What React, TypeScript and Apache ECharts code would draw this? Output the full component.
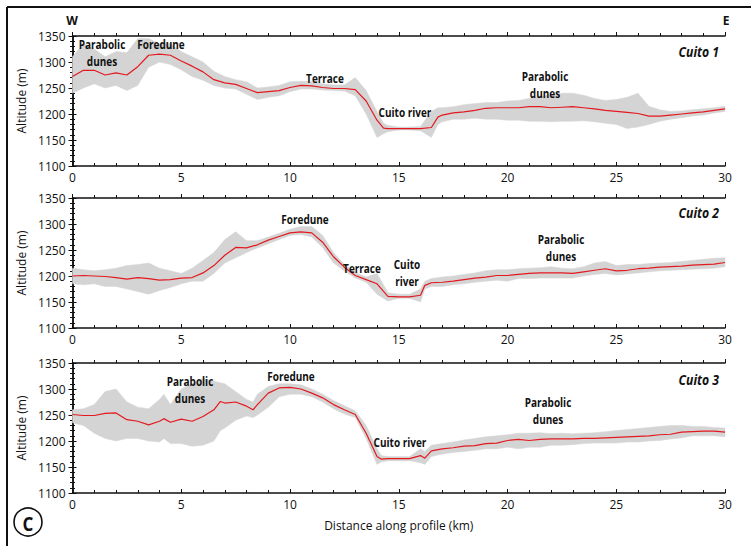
import React, { useEffect, useRef } from "react";
import * as echarts from "echarts";

// ---------- DATA ----------
const kmP1 = [0,0.5,1,1.5,2,2.5,3,3.5,4,4.5,5,5.5,6,6.5,7,7.5,8,8.5,9,9.5,10,10.5,11,11.5,12,12.5,13,13.5,14,14.3,14.5,15,15.5,16,16.5,16.8,17,17.5,18,18.5,19,19.5,20,20.5,21,21.5,22,22.5,23,23.5,24,24.5,25,25.5,26,26.5,27,27.5,28,28.5,29,29.5,30];
const meanP1 = [1272,1284,1284,1275,1279,1275,1291,1313,1315,1313,1302,1292,1281,1266,1260,1257,1249,1241,1243,1245,1251,1255,1254,1251,1249,1249,1247,1225,1188,1173,1172,1172,1172,1172,1174,1194,1198,1202,1204,1207,1211,1212,1212,1212,1214,1214,1212,1213,1214,1212,1210,1207,1205,1203,1201,1196,1196,1198,1200,1202,1204,1207,1210];
const lowP1 = [1240,1250,1258,1250,1255,1245,1255,1290,1300,1295,1285,1272,1265,1255,1250,1248,1238,1228,1232,1235,1243,1248,1248,1246,1245,1244,1235,1200,1155,1162,1166,1169,1169,1168,1155,1180,1185,1190,1190,1192,1190,1190,1188,1188,1186,1186,1185,1186,1186,1187,1185,1182,1180,1172,1175,1180,1186,1190,1193,1196,1198,1202,1205];
const highP1 = [1310,1335,1325,1310,1320,1318,1345,1345,1335,1335,1320,1310,1300,1282,1272,1266,1262,1250,1252,1255,1262,1263,1262,1258,1256,1256,1270,1245,1205,1182,1178,1175,1175,1176,1205,1212,1212,1214,1218,1220,1222,1222,1225,1226,1230,1234,1236,1240,1240,1236,1230,1226,1228,1232,1240,1215,1208,1205,1206,1208,1210,1212,1215];

const kmP2 = [0,0.5,1,1.5,2,2.5,3,3.5,4,4.5,5,5.5,6,6.5,7,7.5,8,8.5,9,9.5,10,10.5,11,11.5,12,12.5,13,13.5,14,14.5,15,15.5,16,16.2,16.5,17,17.5,18,18.5,19,19.5,20,20.5,21,21.5,22,22.5,23,23.5,24,24.5,25,25.5,26,26.5,27,27.5,28,28.5,29,29.5,30];
const meanP2 = [1200,1201,1200,1199,1197,1194,1197,1195,1192,1193,1196,1197,1206,1220,1240,1255,1254,1260,1269,1276,1283,1285,1283,1265,1237,1217,1201,1193,1185,1161,1160,1160,1163,1182,1187,1188,1190,1193,1196,1198,1201,1201,1203,1205,1206,1206,1206,1205,1208,1211,1214,1210,1211,1214,1215,1217,1218,1219,1221,1222,1223,1226];
const lowP2 = [1185,1183,1185,1180,1180,1175,1170,1165,1172,1178,1185,1190,1190,1205,1225,1235,1245,1254,1262,1270,1278,1280,1275,1255,1225,1210,1196,1188,1165,1152,1157,1157,1150,1175,1180,1180,1183,1185,1188,1190,1192,1190,1195,1195,1196,1196,1196,1196,1200,1203,1205,1202,1204,1206,1208,1210,1211,1212,1213,1214,1215,1218];
const highP2 = [1215,1212,1210,1212,1215,1220,1222,1225,1215,1210,1205,1215,1230,1245,1270,1285,1268,1268,1275,1282,1290,1295,1295,1278,1245,1222,1207,1198,1205,1168,1165,1165,1175,1190,1195,1198,1200,1203,1206,1210,1212,1212,1214,1215,1216,1218,1215,1214,1218,1225,1228,1220,1222,1222,1224,1225,1226,1228,1230,1232,1234,1235];

const kmP3 = [0,0.5,1,1.5,2,2.5,3,3.5,4,4.2,4.5,5,5.5,6,6.5,6.8,7,7.5,8,8.3,8.5,9,9.5,10,10.5,11,11.5,12,12.5,13,13.5,14,14.2,14.5,15,15.5,16,16.2,16.5,17,17.5,18,18.5,19,19.5,20,20.5,21,21.5,22,22.5,23,23.5,24,24.5,25,25.5,26,26.5,27,27.5,28,28.5,29,29.5,30];
const meanP3 = [1251,1249,1249,1253,1254,1241,1238,1231,1238,1243,1236,1242,1238,1247,1260,1276,1273,1275,1267,1260,1270,1292,1302,1303,1300,1292,1283,1270,1260,1251,1215,1170,1165,1166,1166,1166,1172,1167,1181,1185,1187,1190,1191,1195,1196,1201,1203,1201,1203,1204,1204,1204,1205,1205,1206,1207,1208,1209,1210,1212,1213,1217,1218,1219,1219,1217];
const lowP3 = [1235,1230,1215,1205,1200,1205,1205,1200,1198,1205,1195,1195,1190,1192,1200,1220,1225,1240,1248,1245,1250,1265,1285,1290,1290,1285,1275,1262,1252,1245,1205,1155,1160,1162,1162,1162,1158,1155,1170,1175,1178,1180,1182,1185,1185,1188,1185,1188,1188,1192,1192,1193,1195,1196,1196,1196,1198,1198,1200,1201,1204,1206,1210,1210,1210,1208];
const highP3 = [1260,1262,1270,1295,1300,1275,1265,1262,1280,1290,1270,1300,1310,1320,1315,1312,1310,1295,1280,1275,1290,1305,1310,1310,1308,1300,1290,1278,1268,1258,1230,1185,1172,1170,1170,1170,1185,1180,1192,1195,1198,1202,1205,1208,1210,1212,1215,1215,1216,1214,1215,1214,1215,1216,1218,1220,1222,1224,1226,1228,1230,1230,1228,1228,1226,1225];

const panelNames = ["Cuito 1", "Cuito 2", "Cuito 3"];
const xTicks = [0, 5, 10, 15, 20, 25, 30];
const yTicks = [1100, 1150, 1200, 1250, 1300, 1350];

// annotations: [panel, text lines, x px, y px of first line]
const annotations: [number, string[], number, number][] = [
  [0, ["Parabolic", "dunes"], 102, 44],
  [0, ["Foredune"], 161, 44],
  [0, ["Terrace"], 325, 78],
  [0, ["Cuito river"], 405, 112],
  [0, ["Parabolic", "dunes"], 545, 76],
  [1, ["Foredune"], 305, 219],
  [1, ["Terrace"], 362, 268],
  [1, ["Cuito", "river"], 407, 264],
  [1, ["Parabolic", "dunes"], 561, 239],
  [2, ["Parabolic", "dunes"], 190, 381],
  [2, ["Foredune"], 291, 376],
  [2, ["Cuito river"], 400, 442],
  [2, ["Parabolic", "dunes"], 548, 402],
];
const titleY = [52, 213, 380];

const panels = [
  { km: kmP1, mean: meanP1, low: lowP1, high: highP1 },
  { km: kmP2, mean: meanP2, low: lowP2, high: highP2 },
  { km: kmP3, mean: meanP3, low: lowP3, high: highP3 },
];

const FONT = "'Open Sans', 'Noto Sans', sans-serif";
const gridTops = [36, 198, 363];
const GRID_LEFT = 72.5;
const GRID_RIGHT = 26;
const GRID_H = 130;

export default function App() {
  const ref = useRef<HTMLDivElement>(null);
  useEffect(() => {
    if (!ref.current) return;
    const chart = echarts.init(ref.current, null, { renderer: "svg" });
    const grid: any[] = [];
    const xAxis: any[] = [];
    const yAxis: any[] = [];
    const series: any[] = [];
    const axisLine = { show: true, lineStyle: { color: "#111", width: 1.5 } };
    const fmt = (v: number) => String(v);

    panels.forEach((p, i) => {
      grid.push({ left: GRID_LEFT, right: GRID_RIGHT, top: gridTops[i], height: GRID_H });
      xAxis.push({
        type: "value", gridIndex: i, min: xTicks[0], max: xTicks[xTicks.length - 1], interval: 5,
        position: "bottom",
        axisLine,
        axisTick: { show: true, inside: true, length: 4, lineStyle: { color: "#111" } },
        minorTick: { show: true, splitNumber: 5, length: 3, lineStyle: { color: "#111" } },
        splitLine: { show: false },
        axisLabel: { color: "#111", fontFamily: FONT, fontSize: 12, margin: 5, formatter: fmt },
        ...(i === 2
          ? { name: "Distance along profile (km)", nameLocation: "middle", nameGap: 26,
              nameTextStyle: { color: "#111", fontFamily: FONT, fontSize: 12 } }
          : {}),
      });
      xAxis.push({
        type: "value", gridIndex: i, min: 0, max: 30, interval: 5, position: "top",
        axisLine,
        axisTick: { show: true, inside: false, length: 4, lineStyle: { color: "#111" } },
        minorTick: { show: true, splitNumber: 5, length: 3, lineStyle: { color: "#111" } },
        splitLine: { show: false },
        axisLabel: { show: false },
      });
      yAxis.push({
        type: "value", gridIndex: i, min: yTicks[0], max: yTicks[yTicks.length - 1], interval: 50,
        position: "left",
        axisLine,
        axisTick: { show: true, inside: false, length: 4, lineStyle: { color: "#111" } },
        minorTick: { show: true, splitNumber: 5, length: 2.5, lineStyle: { color: "#111" } },
        splitLine: { show: false },
        axisLabel: { color: "#111", fontFamily: FONT, fontSize: 12, margin: 7, formatter: fmt },
        name: "Altitude (m)", nameLocation: "middle", nameGap: 41,
        nameTextStyle: { color: "#111", fontFamily: FONT, fontSize: 12 },
      });
      yAxis.push({
        type: "value", gridIndex: i, min: 1100, max: 1350, interval: 50, position: "right",
        axisLine,
        axisTick: { show: true, inside: false, length: 4, lineStyle: { color: "#111" } },
        minorTick: { show: true, splitNumber: 5, length: 2.5, lineStyle: { color: "#111" } },
        splitLine: { show: false },
        axisLabel: { show: false },
      });
      const xi = i * 2;
      const yi = i * 2;
      series.push({
        type: "custom", name: "band" + i, xAxisIndex: xi, yAxisIndex: yi,
        data: [[p.km[0], p.low[0]]],
        silent: true, z: 1,
        renderItem: (_params: any, api: any) => {
          const pts: number[][] = [];
          for (let j = 0; j < p.km.length; j++) pts.push(api.coord([p.km[j], p.high[j]]));
          for (let j = p.km.length - 1; j >= 0; j--) pts.push(api.coord([p.km[j], p.low[j]]));
          return { type: "polygon", shape: { points: pts }, style: { fill: "#d4d4d4", stroke: "#d4d4d4", lineWidth: 0.5 } };
        },
      });
      series.push({
        type: "line", name: "mean" + i, xAxisIndex: xi, yAxisIndex: yi,
        data: p.km.map((k, j) => [k, p.mean[j]]),
        symbol: "none", lineStyle: { color: "#e3191f", width: 1.2 }, z: 3,
      });
    });

    const graphic: any[] = [];
    const Z = 100;
    graphic.push({ type: "line", z: Z, shape: { x1: 7, y1: 7, x2: 760, y2: 7 }, style: { stroke: "#111", lineWidth: 2 } });
    graphic.push({ type: "line", z: Z, shape: { x1: 7, y1: 7, x2: 7, y2: 560 }, style: { stroke: "#111", lineWidth: 2 } });
    graphic.push({ type: "text", z: Z, x: 72, y: 20, style: { text: "W", fontFamily: FONT, fontWeight: "bold", fontSize: 12, fill: "#111", align: "center", verticalAlign: "middle" } });
    graphic.push({ type: "text", z: Z, x: 726, y: 20, style: { text: "E", fontFamily: FONT, fontWeight: "bold", fontSize: 12, fill: "#111", align: "center", verticalAlign: "middle" } });
    graphic.push({ type: "circle", z: Z, shape: { cx: 28, cy: 522, r: 14 }, style: { fill: "#fff", stroke: "#111", lineWidth: 1.6 } });
    graphic.push({ type: "text", z: Z + 1, x: 28, y: 523, scaleX: 0.85, style: { text: "C", fontFamily: FONT, fontWeight: "bold", fontSize: 20, fill: "#111", align: "center", verticalAlign: "middle" } });
    annotations.forEach(([, lines, x, y]) => {
      lines.forEach((t, k) => {
        graphic.push({
          type: "text", z: Z, x, y: y + k * 17, scaleX: 0.8,
          style: { text: t, fontFamily: FONT, fontWeight: "bold", fontSize: 12.5, fill: "#111", align: "center", verticalAlign: "middle" },
        });
      });
    });
    panelNames.forEach((n, i) => {
      graphic.push({
        type: "text", z: Z, x: 719, y: titleY[i], scaleX: 0.87,
        style: { text: n, fontFamily: FONT, fontWeight: "bold", fontStyle: "italic", fontSize: 14, fill: "#111", align: "right", verticalAlign: "middle" },
      });
    });

    chart.setOption({
      animation: false,
      backgroundColor: "#fff",
      grid, xAxis, yAxis, series, graphic,
    });
    return () => chart.dispose();
  }, []);
  return <div ref={ref} style={{ position: "fixed", left: 0, top: 0, width: 751, height: 546 }} />;
}
